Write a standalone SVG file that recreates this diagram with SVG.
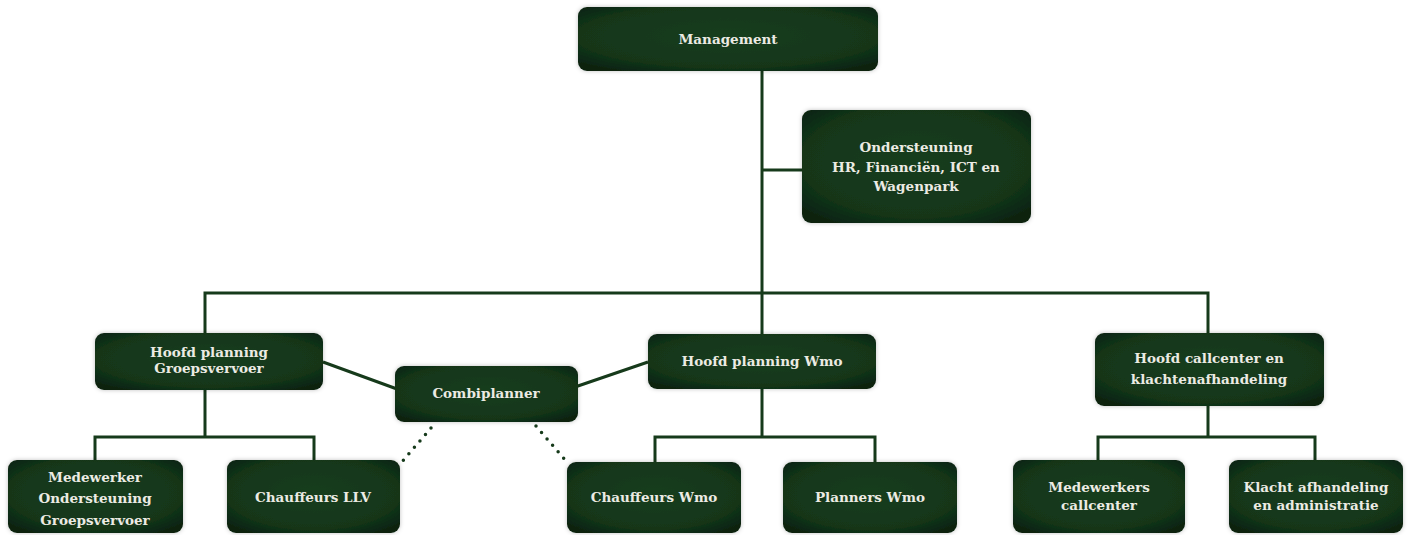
<svg xmlns="http://www.w3.org/2000/svg" width="1414" height="535" viewBox="0 0 1414 535">
<defs>
<radialGradient id="g" cx="50%" cy="45%" r="65%">
<stop offset="0%" stop-color="#163d1f"/>
<stop offset="75%" stop-color="#133619"/>
<stop offset="100%" stop-color="#0b2411"/>
</radialGradient>
<filter id="sh" x="-10%" y="-20%" width="120%" height="140%">
<feDropShadow dx="0" dy="0" stdDeviation="2" flood-color="#000" flood-opacity="0.25"/>
</filter>
</defs>
<style>
.box{fill:url(#g);filter:url(#sh);}
.t{font-family:"DejaVu Serif","Liberation Serif",serif;font-weight:bold;font-size:13.5px;fill:#ecebe3;text-anchor:middle;}
.ln{stroke:#163a1b;stroke-width:3;fill:none;}
.dot{stroke:#163a1b;stroke-width:3.5;stroke-linecap:round;stroke-dasharray:0 8.5;fill:none;}
</style>
<rect width="1414" height="535" fill="#ffffff"/>
<g id="connectors">
<path class="ln" d="M762 71V334M762 170H802M205 333V293H1208V333"/>
<path class="ln" d="M205 390V437M95 460V437H314V460"/>
<path class="ln" d="M762 389V437M655 462V437H875V462"/>
<path class="ln" d="M1208 406V437M1098 460V437H1315V460"/>
<path class="ln" d="M323 362L397 389M575 387L648 362"/>
<path class="dot" d="M431 428L401 463"/>
<path class="dot" d="M536 426L566 461"/>
</g>
<g id="management"><rect class="box" x="578" y="7" width="300" height="64" rx="9"/><text class="t" x="728" y="44">Management</text></g>
<g id="ondersteuning"><rect class="box" x="802" y="110" width="229" height="113" rx="9"/><text class="t" x="916" y="152">Ondersteuning</text><text class="t" x="916" y="172">HR, Financiën, ICT en</text><text class="t" x="916" y="191">Wagenpark</text></g>
<g id="hoofd-groepsvervoer"><rect class="box" x="95" y="333" width="228" height="57" rx="9"/><text class="t" x="209" y="357">Hoofd planning</text><text class="t" x="209" y="373">Groepsvervoer</text></g>
<g id="combiplanner"><rect class="box" x="395" y="366" width="183" height="56" rx="9"/><text class="t" x="486" y="398">Combiplanner</text></g>
<g id="hoofd-wmo"><rect class="box" x="648" y="334" width="228" height="55" rx="9"/><text class="t" x="762" y="366">Hoofd planning Wmo</text></g>
<g id="hoofd-callcenter"><rect class="box" x="1095" y="333" width="229" height="73" rx="9"/><text class="t" x="1209" y="363">Hoofd callcenter en</text><text class="t" x="1209" y="384">klachtenafhandeling</text></g>
<g id="medewerker-ondersteuning"><rect class="box" x="8" y="460" width="175" height="73" rx="9"/><text class="t" x="95" y="482">Medewerker</text><text class="t" x="95" y="503">Ondersteuning</text><text class="t" x="95" y="525">Groepsvervoer</text></g>
<g id="chauffeurs-llv"><rect class="box" x="227" y="460" width="173" height="73" rx="9"/><text class="t" x="313" y="502">Chauffeurs LLV</text></g>
<g id="chauffeurs-wmo"><rect class="box" x="567" y="462" width="174" height="71" rx="9"/><text class="t" x="654" y="502">Chauffeurs Wmo</text></g>
<g id="planners-wmo"><rect class="box" x="783" y="462" width="174" height="71" rx="9"/><text class="t" x="870" y="502">Planners Wmo</text></g>
<g id="medewerkers-callcenter"><rect class="box" x="1013" y="460" width="172" height="73" rx="9"/><text class="t" x="1099" y="492">Medewerkers</text><text class="t" x="1099" y="510">callcenter</text></g>
<g id="klacht-afhandeling"><rect class="box" x="1229" y="460" width="174" height="73" rx="9"/><text class="t" x="1316" y="492">Klacht afhandeling</text><text class="t" x="1316" y="510">en administratie</text></g>
</svg>
